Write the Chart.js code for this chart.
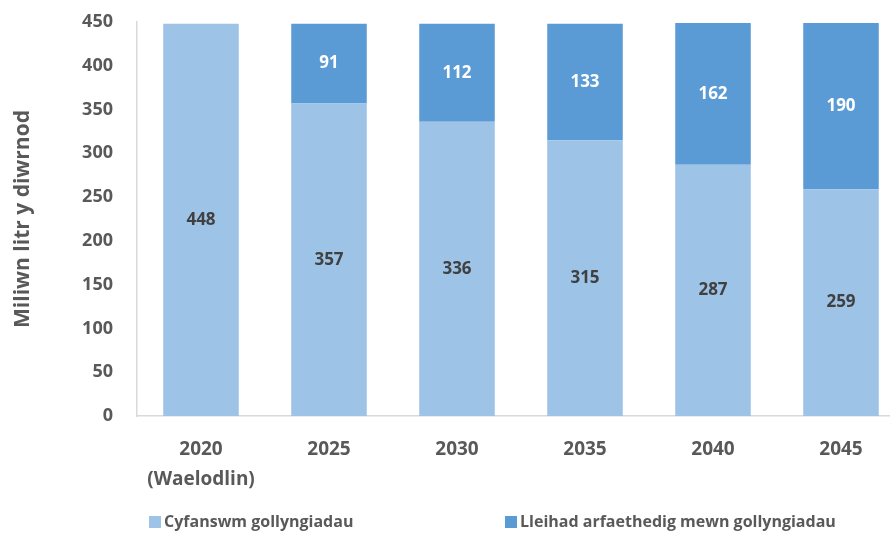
<!DOCTYPE html>
<html>
<head>
<meta charset="utf-8">
<script src="https://cdn.jsdelivr.net/npm/chart.js@4.4.1/dist/chart.umd.min.js"></script>
<style>
  html, body { margin: 0; padding: 0; background: #fff; }
  #wrap { width: 890px; height: 541px; overflow: hidden; }
  canvas { display: block; }
</style>
</head>
<body>
<div id="wrap"><canvas id="chart" width="910" height="541"></canvas></div>
<script>
// Data
const categories = [['2020', '(Waelodlin)'], '2025', '2030', '2035', '2040', '2045'];
const totalDischarges = [448, 357, 336, 315, 287, 259];
const plannedReduction = [null, 91, 112, 133, 162, 190];
const seriesNames = ['Cyfanswm gollyngiadau', 'Lleihad arfaethedig mewn gollyngiadau'];
const yTicks = [0, 50, 100, 150, 200, 250, 300, 350, 400, 450];

const COLORS = {
    light: '#9DC3E6',
    dark: '#5B9BD5',
    text: '#595959',
    axis: '#D9D9D9'
};
const FONT = "'Open Sans', 'DejaVu Sans', sans-serif";

// Value labels in the middle of each bar segment
const barLabels = {
    id: 'barLabels',
    afterDatasetsDraw(chart) {
        const ctx = chart.ctx;
        ctx.save();
        ctx.font = `bold 17px ${FONT}`;
        ctx.textAlign = 'center';
        ctx.textBaseline = 'middle';
        chart.data.datasets.forEach((ds, i) => {
            const meta = chart.getDatasetMeta(i);
            ctx.fillStyle = i === 0 ? '#404040' : '#FFFFFF';
            meta.data.forEach((bar, j) => {
                const v = ds.data[j];
                if (v == null) return;
                ctx.fillText(String(v), bar.x, (bar.y + bar.base) / 2);
            });
        });
        ctx.restore();
    }
};

// Legend drawn by hand so the wide gap between the two items can be kept
const wideLegend = {
    id: 'wideLegend',
    afterDraw(chart) {
        const ctx = chart.ctx;
        const y = 522;
        const items = [
            { x: 149, color: COLORS.light, text: seriesNames[0] },
            { x: 505, color: COLORS.dark, text: seriesNames[1] }
        ];
        ctx.save();
        ctx.font = `bold 16px ${FONT}`;
        ctx.textBaseline = 'middle';
        ctx.textAlign = 'left';
        items.forEach(item => {
            ctx.fillStyle = item.color;
            ctx.fillRect(item.x, y - 6, 12, 12);
            ctx.fillStyle = COLORS.text;
            ctx.fillText(item.text, item.x + 15, y);
        });
        ctx.restore();
    }
};

new Chart(document.getElementById('chart'), {
    type: 'bar',
    data: {
        labels: categories,
        datasets: [{
            label: seriesNames[0],
            data: totalDischarges,
            backgroundColor: COLORS.light,
            barPercentage: 0.59,
            categoryPercentage: 1
        }, {
            label: seriesNames[1],
            data: plannedReduction,
            backgroundColor: COLORS.dark,
            barPercentage: 0.59,
            categoryPercentage: 1
        }]
    },
    options: {
        responsive: false,
        animation: false,
        layout: {
            padding: { top: 22, left: 0, right: 5, bottom: 45 }
        },
        plugins: {
            legend: { display: false },
            tooltip: { enabled: false }
        },
        scales: {
            x: {
                stacked: true,
                grid: { display: false, drawTicks: false },
                border: { display: true, color: COLORS.axis, width: 1.5 },
                ticks: {
                    color: COLORS.text,
                    padding: 18,
                    font: { family: FONT, size: 19, weight: 'bold', lineHeight: 1.6 },
                    maxRotation: 0
                },
                afterFit(scale) { scale.height = 80; }
            },
            y: {
                stacked: true,
                min: 0,
                max: 450,
                afterBuildTicks(scale) {
                    scale.ticks = yTicks.map(v => ({ value: v }));
                },
                grid: { display: false, drawTicks: false },
                border: { display: true, color: COLORS.axis, width: 1.5 },
                ticks: {
                    color: COLORS.text,
                    padding: 24,
                    font: { family: FONT, size: 18, weight: 'bold' }
                },
                title: {
                    display: true,
                    text: 'Miliwn litr y diwrnod',
                    color: COLORS.text,
                    padding: { top: 10, bottom: 0 },
                    font: { family: FONT, size: 21, weight: 'bold' }
                },
                afterFit(scale) {
                    scale.width = 137;
                    scale.paddingTop = 0;
                    scale.paddingBottom = 0;
                }
            }
        }
    },
    plugins: [barLabels, wideLegend]
});
</script>
</body>
</html>
